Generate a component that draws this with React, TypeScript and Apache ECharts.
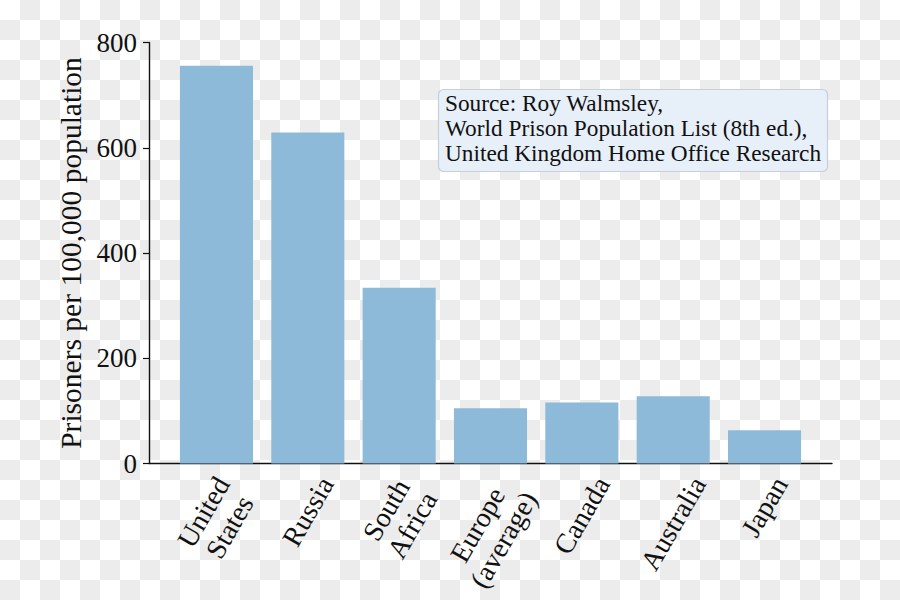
import React, { useEffect, useRef } from "react";
import * as echarts from "echarts";

const categories = ["United\nStates", "Russia", "South\nAfrica", "Europe\n(average)", "Canada", "Australia", "Japan"];
const values = [756, 629, 334, 105, 116, 128, 63];
const yMin = 0;
const yMax = 800;
const yStep = 200;
const yAxisTitle = "Prisoners per 100,000 population";
const sourceLines = [
  "Source: Roy Walmsley,",
  "World Prison Population List (8th ed.),",
  "United Kingdom Home Office Research",
];

const FONT = '"Liberation Serif", "Times New Roman", serif';
const LABEL_SIZE = 28;
const LABEL_LH = 30;
const LABEL_PAD = 8;
const TICK_SIZE = 27;
const BAR_COLOR = "#8ebad9";
const INK = "#111111";

function measure(text: string, size: number): number {
  const c = document.createElement("canvas");
  const ctx = c.getContext("2d");
  if (!ctx) return text.length * size * 0.45;
  ctx.font = `${size}px "Liberation Serif"`;
  return ctx.measureText(text).width;
}

export default function App() {
  const ref = useRef<HTMLDivElement>(null);

  useEffect(() => {
    if (!ref.current) return;
    const chart = echarts.init(ref.current, null, { renderer: "svg" });
    const gridBox = { top: 42.5, bottom: 136.5, outerBoundsMode: "none" };
    chart.setOption({
      animation: false,
      backgroundColor: "transparent",
      textStyle: { fontFamily: FONT },
      title: {
        text: sourceLines.join("\n"),
        left: 438,
        top: 89,
        padding: [2, 7, 6, 7],
        backgroundColor: "#e7eff8",
        borderColor: "#c6d0da",
        borderWidth: 1.2,
        borderRadius: 5,
        textStyle: {
          fontFamily: FONT,
          fontSize: 23.3,
          fontWeight: "normal",
          color: INK,
          lineHeight: 24.75,
        },
      },
      grid: [
        { left: 149, right: 68, ...gridBox },
        { left: 170.8, right: 89.8, ...gridBox },
      ],
      xAxis: [
        {
          type: "value",
          gridIndex: 0,
          min: 0,
          max: 1,
          axisLine: { show: true, lineStyle: { color: INK, width: 1.4 } },
          axisTick: { show: false },
          axisLabel: { show: false },
          splitLine: { show: false },
        },
        {
          type: "category",
          gridIndex: 1,
          data: categories,
          axisLine: { show: false },
          axisTick: { show: false },
          splitLine: { show: false },
          axisLabel: { show: false },
        },
      ],
      yAxis: [
        {
          type: "value",
          gridIndex: 0,
          min: yMin,
          max: yMax,
          interval: yStep,
          name: yAxisTitle,
          nameLocation: "middle",
          nameGap: 55,
          nameTextStyle: { fontFamily: FONT, fontSize: 29.5, color: INK },
          axisLine: { show: true, lineStyle: { color: INK, width: 1.4 } },
          axisTick: { show: true, inside: false, length: 6, lineStyle: { color: INK, width: 1.2 } },
          axisLabel: { margin: 12, fontFamily: FONT, fontSize: TICK_SIZE, color: INK },
          splitLine: { show: false },
        },
        {
          type: "value",
          gridIndex: 1,
          min: yMin,
          max: yMax,
          interval: yStep,
          show: false,
        },
      ],
      series: [
        {
          type: "bar",
          xAxisIndex: 1,
          yAxisIndex: 1,
          data: values,
          barWidth: "80%",
          itemStyle: { color: BAR_COLOR },
          silent: true,
        },
      ],
    });

    // Rotated category labels: bounding box centred under each tick, top at a fixed gap below the axis
    const s = Math.sin(Math.PI / 3);
    const c = Math.cos(Math.PI / 3);
    const axisY = chart.convertToPixel({ yAxisIndex: 1 }, 0) as number;
    const labels = categories.map((name, i) => {
      const lines = name.split("\n");
      const L = Math.max(...lines.map((l) => measure(l, LABEL_SIZE)));
      const h = lines.length * LABEL_LH;
      const D = (s * L + c * h) / 2;
      const x = chart.convertToPixel({ xAxisIndex: 1 }, i) as number;
      return {
        type: "text",
        x,
        y: axisY + LABEL_PAD + D,
        rotation: Math.PI / 3,
        silent: true,
        style: {
          text: name,
          fontFamily: FONT,
          fontSize: LABEL_SIZE,
          lineHeight: LABEL_LH,
          align: "center",
          verticalAlign: "middle",
          fill: INK,
        },
      };
    });
    chart.setOption({ graphic: labels });

    return () => chart.dispose();
  }, []);

  return (
    <div
      ref={ref}
      style={{
        position: "fixed",
        left: 0,
        top: 0,
        width: 900,
        height: 600,
        backgroundColor: "#ffffff",
        backgroundImage:
          "conic-gradient(#ececec 0 25%, #ffffff 0 50%, #ececec 0 75%, #ffffff 0)",
        backgroundSize: "40px 40px",
      }}
    />
  );
}
